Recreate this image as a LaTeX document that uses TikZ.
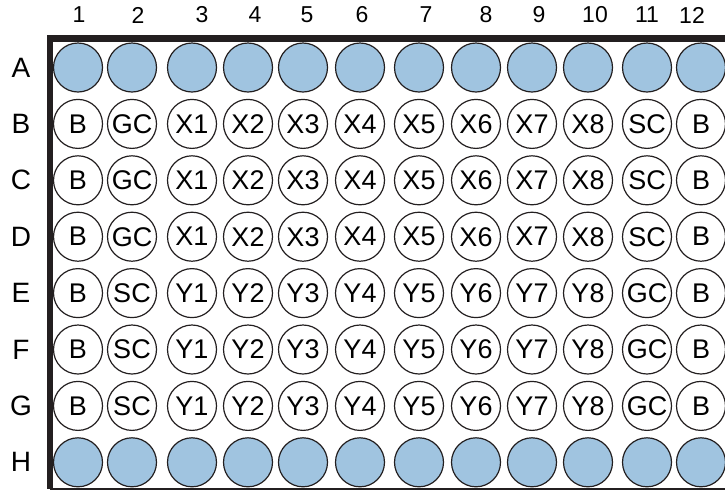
\documentclass[tikz,border=0pt]{standalone}
\usepackage{fontspec}
\setmainfont{Liberation Sans}
\definecolor{wellblue}{RGB}{160,196,224}
\definecolor{plateblack}{RGB}{35,31,32}
\begin{document}
\begin{tikzpicture}[x=1pt, y=-1pt,
            well/.style={
                circle,
                draw=plateblack,
                line width=1.2pt,
                minimum size=49pt,
                inner sep=0pt,
                font=\fontsize{27}{30}\selectfont
            },
            emptywell/.style={
                well,
                fill=wellblue
            },
            collabel/.style={
                font=\fontsize{23}{26}\selectfont
            },
            rowlabel/.style={
                font=\fontsize{28}{30}\selectfont
            }
        ]

        \useasboundingbox (0,0) rectangle (725,491);
        \def\colx{{78,132,192,248,303,360,419,476,532,588,647,701}}

        % Plate frame (thick top and left, thin bottom)
        \coordinate (topright) at (725,38.5);
        \coordinate (corner) at (50,38.5);
        \coordinate (bottomleft) at (50,489);
        \coordinate (bottomright) at (725,489);
        \draw[plateblack, line width=6.5pt, line join=miter]
            (topright) -- (corner) -- (bottomleft);
        \draw[plateblack, line width=1.4pt] (bottomleft) -- (bottomright);

        % Column numbers
        \foreach \c/\lx in {1/79,2/138,3/202,4/255,5/307,6/362,
                            7/426,8/486,9/539,10/595,11/647,12/692}
            \node[collabel] (col\c) at (\lx,15) {\c};

        % Row letters
        \foreach \r [count=\i from 0] in {A,B,C,D,E,F,G,H}
            \node[rowlabel] (row\r) at (21,67.5+56.4*\i) {\r};

        % Empty wells, rows A and H
        \foreach \c in {1,...,12} {
            \pgfmathsetmacro\x{\colx[\c-1]}
            \node[emptywell] (wA\c) at (\x,67.5) {};
            \node[emptywell] (wH\c) at (\x,462.3) {};
        }

        % Sample wells, rows B to G
        \foreach \r/\y/\names in {
                B/123.9/{B,GC,X1,X2,X3,X4,X5,X6,X7,X8,SC,B},
                C/180.3/{B,GC,X1,X2,X3,X4,X5,X6,X7,X8,SC,B},
                D/236.7/{B,GC,X1,X2,X3,X4,X5,X6,X7,X8,SC,B},
                E/293.1/{B,SC,Y1,Y2,Y3,Y4,Y5,Y6,Y7,Y8,GC,B},
                F/349.5/{B,SC,Y1,Y2,Y3,Y4,Y5,Y6,Y7,Y8,GC,B},
                G/405.9/{B,SC,Y1,Y2,Y3,Y4,Y5,Y6,Y7,Y8,GC,B}} {
            \foreach \t [count=\c] in \names {
                \pgfmathsetmacro\x{\colx[\c-1]}
                \node[well] (w\r\c) at (\x,\y) {\t};
            }
        }
        \end{tikzpicture}
\end{document}
